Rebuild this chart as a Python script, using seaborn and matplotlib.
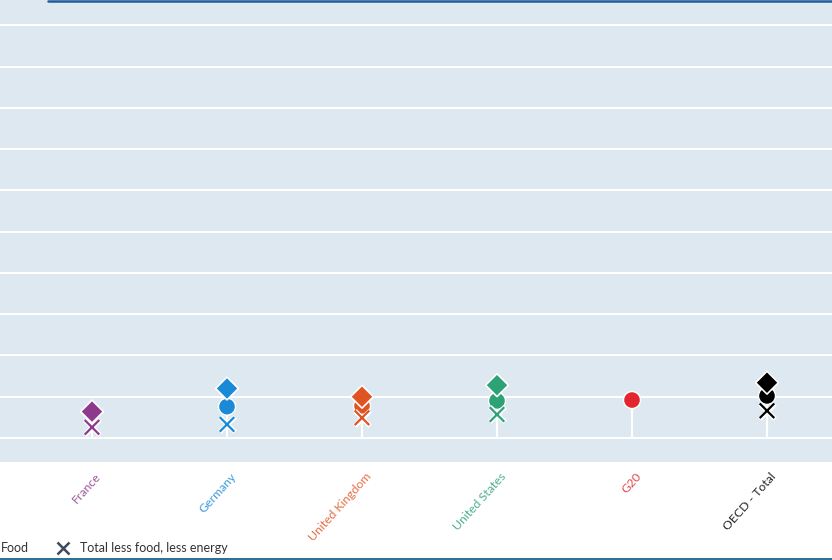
import matplotlib
matplotlib.use("Agg")
import matplotlib.pyplot as plt
import seaborn as sns
import pandas as pd
import numpy as np
from matplotlib.lines import Line2D
from matplotlib.transforms import ScaledTranslation

# ---- data ----
countries = ["France", "Germany", "United Kingdom", "United States", "G20", "OECD - Total"]
total = [np.nan, 0.76, 0.78, 0.90, 0.92, 1.02]          # circles
food = [0.64, 1.20, 1.00, 1.28, np.nan, 1.34]            # diamonds
core = [0.26, 0.33, 0.49, 0.57, np.nan, 0.66]            # crosses: total less food, less energy
colors = ["#8e3a8c", "#1a8ad6", "#e05424", "#2ea277", "#e3262e", "#000000"]
series_labels = ["Total", "Food", "Total less food, less energy"]

sns.set_theme(style="white")
plt.rcParams["font.family"] = ["Lato", "DejaVu Sans"]

W, H = 832, 560
fig = plt.figure(figsize=(W / 100, H / 100), dpi=100)
fig.patch.set_facecolor("white")

# axes: left part cropped off the canvas
ax = fig.add_axes([0, (H - 462) / H, 1, 462 / H])
bg = "#dde8f0"
ax.set_facecolor(bg)
for s in ax.spines.values():
    s.set_visible(False)

palette = dict(zip(countries, colors))
df = pd.DataFrame({"country": countries, "Total": total, "Food": food, "Core": core})

# stems (white lines from zero up to the highest marker)
tops = df[["Total", "Food", "Core"]].max(axis=1)
ax.vlines(np.arange(len(countries)), 0, tops, color="white", lw=1.6, zorder=2)

sns.scatterplot(data=df, x="country", y="Total", hue="country", palette=palette,
                marker="o", s=150, edgecolor="white", linewidth=1.0, legend=False,
                ax=ax, zorder=3)
sns.scatterplot(data=df, x="country", y="Food", hue="country", palette=palette,
                marker="D", s=135, edgecolor="white", linewidth=1.2, legend=False,
                ax=ax, zorder=4)
# crosses with a white halo
sns.scatterplot(data=df, x="country", y="Core", color="white",
                marker="x", s=120, linewidth=3.6, legend=False, ax=ax, zorder=5)
sns.scatterplot(data=df, x="country", y="Core", hue="country", palette=palette,
                marker="x", s=110, linewidth=1.6, legend=False, ax=ax, zorder=6)

# scales
px0 = 92.0
step = 135.0
ax.set_xlim(-px0 / step, (W - px0) / step)
unit = 41.26
ax.set_ylim(-(462 - 438) / unit, 438 / unit)
ax.set_yticks(np.arange(0, 11, 1))
ax.yaxis.grid(True, color="white", lw=1.5)
ax.xaxis.grid(False)
ax.set_axisbelow(True)
ax.tick_params(axis="y", left=False, labelleft=False)
ax.tick_params(axis="x", bottom=False, pad=3)
ax.set_xlabel("")
ax.set_ylabel("")

ax.set_xticks(range(len(countries)))
ax.set_xticklabels(countries)
off = ScaledTranslation(7 / 100, 0, fig.dpi_scale_trans)
for lab, c in zip(ax.get_xticklabels(), colors):
    lab.set_rotation(48)
    lab.set_ha("right")
    lab.set_va("center")
    lab.set_rotation_mode("anchor")
    lab.set_color(c)
    lab.set_alpha(0.85)
    lab.set_fontsize(8.8)
    lab.set_transform(lab.get_transform() + off)

# top and bottom rule lines
fig.add_artist(Line2D([48 / W, 1], [1 - 0.8 / H, 1 - 0.8 / H], color="#1f5f99", lw=1.8,
                      transform=fig.transFigure))
fig.add_artist(Line2D([0, 1], [1.2 / H, 1.2 / H], color="#2a7090", lw=1.4,
                      transform=fig.transFigure))

# legend (left part cropped off)
leg_y = 1 - 548 / H
leg_c = "#3d4b5c"
fig.add_artist(Line2D([-16 / W], [leg_y], marker="D", color=leg_c, ms=8, lw=0,
                      transform=fig.transFigure))
fig.text(1 / W, leg_y, series_labels[1], ha="left", va="center", fontsize=9,
         color="#333333")
fig.add_artist(Line2D([63 / W], [leg_y], marker="x", color=leg_c, ms=9, mew=1.8, lw=0,
                      transform=fig.transFigure))
fig.text(80 / W, leg_y, series_labels[2], ha="left", va="center", fontsize=9,
         color="#333333")

fig.savefig("out.png", dpi=100, facecolor="white")
